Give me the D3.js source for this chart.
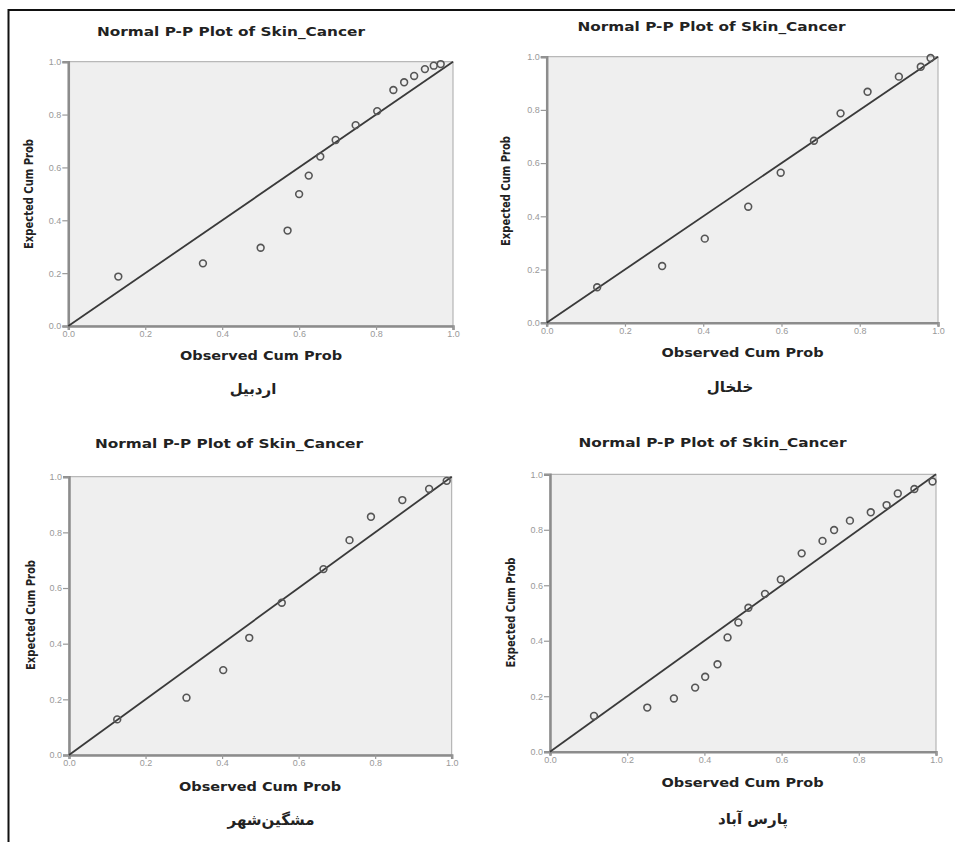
<!DOCTYPE html>
<html lang="en">
<head>
  <meta charset="UTF-8">
  <title>Normal P-P Plots of Skin_Cancer</title>
  <style>
    body { margin: 0; background: #fff; }
    svg { display: block; }
    .title, .xlabel, .ylabel { font-family: "DejaVu Sans", Arial, sans-serif; font-weight: bold; fill: #222; }
    .tick text { font-family: "Liberation Sans", Arial, sans-serif; fill: #999; }
    .region { font-family: "DejaVu Sans", sans-serif; font-weight: bold; fill: #222; }
  </style>
</head>
<body>
<script src="https://d3js.org/d3.v7.min.js"></script>
<script>
  // tick values shared by both axes
  const tickValues = [0, 0.2, 0.4, 0.6, 0.8, 1.0]
  const titleText = 'Normal P-P Plot of Skin_Cancer'
  const xLabelText = 'Observed Cum Prob'
  const yLabelText = 'Expected Cum Prob'
  const regionNames = ['اردبیل', 'خلخال', 'مشگین‌شهر', 'پارس آباد']

  // observed / expected cumulative probabilities
  const ardabilObs = [0.13, 0.35, 0.50, 0.57, 0.60, 0.625, 0.655, 0.695, 0.747, 0.803, 0.845, 0.873, 0.899, 0.927, 0.950, 0.968]
  const ardabilExp = [0.187, 0.237, 0.296, 0.361, 0.499, 0.569, 0.641, 0.704, 0.760, 0.813, 0.893, 0.922, 0.946, 0.972, 0.985, 0.991]

  const khalkhalObs = [0.129, 0.295, 0.404, 0.515, 0.598, 0.683, 0.751, 0.820, 0.900, 0.956, 0.981]
  const khalkhalExp = [0.133, 0.213, 0.316, 0.436, 0.564, 0.684, 0.787, 0.868, 0.925, 0.962, 0.995]

  const meshginObs = [0.126, 0.307, 0.403, 0.471, 0.556, 0.665, 0.733, 0.789, 0.871, 0.941, 0.987]
  const meshginExp = [0.128, 0.206, 0.305, 0.421, 0.547, 0.668, 0.772, 0.856, 0.916, 0.956, 0.985]

  const parsAbadObs = [0.114, 0.252, 0.321, 0.376, 0.402, 0.434, 0.460, 0.488, 0.514, 0.557, 0.598, 0.652, 0.706, 0.736, 0.777, 0.831, 0.872, 0.901, 0.944, 0.991]
  const parsAbadExp = [0.129, 0.159, 0.192, 0.231, 0.270, 0.315, 0.412, 0.466, 0.519, 0.569, 0.621, 0.715, 0.760, 0.799, 0.833, 0.863, 0.889, 0.931, 0.947, 0.974]

  const seriesObs = [ardabilObs, khalkhalObs, meshginObs, parsAbadObs]
  const seriesExp = [ardabilExp, khalkhalExp, meshginExp, parsAbadExp]

  // layout of each panel (plot box + text anchors)
  const layout = [
    { x0: 68.3, x1: 453, y0: 61.7, y1: 326, tx: 231, ty: 36, lx: 261, ly: 359.5, yx: 32.5, yy: 194, rx: 253, ry: 394 },
    { x0: 546.7, x1: 938, y0: 56.7, y1: 322.7, tx: 711.5, ty: 30.5, lx: 742.5, ly: 356.5, yx: 510, yy: 191, rx: 730, ry: 392 },
    { x0: 69, x1: 451.7, y0: 476.7, y1: 755, tx: 229, ty: 448, lx: 260, ly: 790.5, yx: 35, yy: 615, rx: 271, ry: 825 },
    { x0: 550, x1: 936, y0: 474.3, y1: 751.7, tx: 712.5, ty: 447, lx: 742.5, ly: 786.5, yx: 514.5, yy: 612.5, rx: 753, ry: 824 }
  ]

  const W = 955, H = 842
  const svg = d3.select('body').append('svg')
    .attr('width', W)
    .attr('height', H)

  // outer frame (top and left edge only, the rest is cropped)
  svg.append('line').attr('x1', 8).attr('x2', W).attr('y1', 10).attr('y2', 10)
    .attr('stroke', '#111').attr('stroke-width', 2)
  svg.append('line').attr('x1', 8.5).attr('x2', 8.5).attr('y1', 9).attr('y2', H)
    .attr('stroke', '#111').attr('stroke-width', 2)

  layout.forEach(function (L, i) {
    const g = svg.append('g')
    const x = d3.scaleLinear().domain([0, 1]).range([L.x0, L.x1])
    const y = d3.scaleLinear().domain([0, 1]).range([L.y1, L.y0])

    // plot background
    g.append('rect')
      .attr('x', L.x0).attr('y', L.y0)
      .attr('width', L.x1 - L.x0).attr('height', L.y1 - L.y0)
      .attr('fill', '#efefef')
      .attr('stroke', '#a8a8a8')
      .attr('stroke-width', 1)

    // axes
    const xAxis = d3.axisBottom(x).tickValues(tickValues).tickFormat(d3.format('.1f')).tickSize(4).tickPadding(1)
    const gx = g.append('g').attr('transform', `translate(0,${L.y1})`).call(xAxis)
    const yAxis = d3.axisLeft(y).tickValues(tickValues).tickFormat(d3.format('.1f')).tickSize(6).tickPadding(1)
    const gy = g.append('g').attr('transform', `translate(${L.x0},0)`).call(yAxis)
    ;[gx, gy].forEach(function (a) {
      a.select('.domain').attr('stroke', '#8c8c8c').attr('stroke-width', 2.5)
      a.selectAll('.tick line').attr('stroke', '#999').attr('stroke-width', 1.2)
      a.selectAll('.tick text').attr('font-size', 9)
    })

    // reference diagonal
    g.append('line')
      .attr('x1', x(0)).attr('y1', y(0))
      .attr('x2', x(1)).attr('y2', y(1))
      .attr('stroke', '#3a3a3a')
      .attr('stroke-width', 1.8)

    // points
    const pts = seriesObs[i].map((d, j) => ({ obs: d, exp: seriesExp[i][j] }))
    g.selectAll('.dot')
      .data(pts)
      .enter()
      .append('circle')
      .attr('class', 'dot')
      .attr('cx', d => x(d.obs))
      .attr('cy', d => y(d.exp))
      .attr('r', 3.4)
      .attr('fill', 'none')
      .attr('stroke', '#555')
      .attr('stroke-width', 1.6)

    // texts
    g.append('text').attr('class', 'title')
      .attr('x', L.tx).attr('y', L.ty)
      .attr('text-anchor', 'middle')
      .attr('font-size', 12)
      .attr('textLength', 268).attr('lengthAdjust', 'spacingAndGlyphs')
      .text(titleText)

    g.append('text').attr('class', 'xlabel')
      .attr('x', L.lx).attr('y', L.ly)
      .attr('text-anchor', 'middle')
      .attr('font-size', 11.5)
      .attr('textLength', 162).attr('lengthAdjust', 'spacingAndGlyphs')
      .text(xLabelText)

    g.append('text').attr('class', 'ylabel')
      .attr('transform', `translate(${L.yx},${L.yy}) rotate(-90)`)
      .attr('text-anchor', 'middle')
      .attr('font-size', 12)
      .attr('textLength', 110).attr('lengthAdjust', 'spacingAndGlyphs')
      .text(yLabelText)

    g.append('text').attr('class', 'region')
      .attr('x', L.rx).attr('y', L.ry)
      .attr('text-anchor', 'middle')
      .attr('direction', 'rtl')
      .attr('font-size', 15)
      .text(regionNames[i])
  })
</script>
</body>
</html>
